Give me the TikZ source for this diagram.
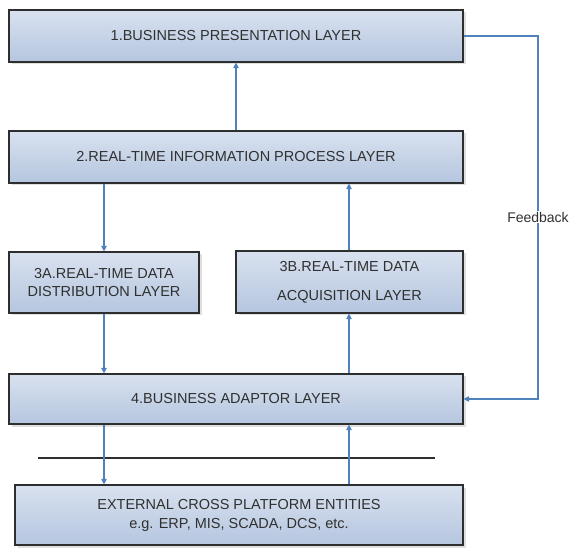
\documentclass[tikz,border=0pt]{standalone}
\usepackage{fontspec}
\setmainfont{Liberation Sans}
\usetikzlibrary{arrows.meta,shadows}
\definecolor{conn}{HTML}{4F81BD}
\definecolor{txt}{HTML}{303030}
\definecolor{topc}{HTML}{D8E1EF}
\definecolor{botc}{HTML}{B5C6DF}
\definecolor{edge}{HTML}{2E2E2E}
\tikzset{
  layer/.style={draw=edge, line width=1.2pt, rectangle, inner sep=0pt,
    top color=topc, bottom color=botc, text=txt, align=center,
    font=\fontsize{14.5}{18}\selectfont,
    drop shadow={opacity=0.25, shadow xshift=2.5pt, shadow yshift=-2.5pt}},
  arr/.style={draw=conn, line width=1.1pt, -{Triangle[width=5.5pt,length=5.5pt]}},
  lbl/.style={fill=white, text=txt, inner sep=1pt, font=\fontsize{14}{16}\selectfont}
}
\begin{document}
\begin{tikzpicture}[x=1pt,y=-1pt]
\useasboundingbox (0,0) rectangle (571,548);
\node[layer, minimum width=454pt, minimum height=52pt] (b1) at (236,36) {1.BUSINESS PRESENTATION LAYER};
\node[layer, minimum width=454pt, minimum height=52pt] (b2) at (236,157) {2.REAL-TIME INFORMATION PROCESS LAYER};
\node[layer, minimum width=190pt, minimum height=61pt] (b3a) at (104,282.5) {3A.REAL-TIME DATA\\DISTRIBUTION LAYER};
\node[layer, minimum width=227pt, minimum height=62pt] (b3b) at (349.5,282) {3B.REAL-TIME DATA\\[11pt]ACQUISITION LAYER};
\node[layer, minimum width=454pt, minimum height=50pt] (b4) at (236,399) {4.BUSINESS ADAPTOR LAYER};
\node[layer, minimum width=448pt, minimum height=60pt, font=\fontsize{14.5}{19}\selectfont] (b5) at (239,515) {EXTERNAL CROSS PLATFORM ENTITIES\\e.g. ERP, MIS, SCADA, DCS, etc.};
\coordinate (sepL) at (38,458);
\coordinate (sepR) at (435,458);
\coordinate (fbx) at (538,36);
\coordinate (ax) at (349,0);
\draw[line width=1.2pt, draw=edge] (sepL) -- (sepR);
\draw[arr] (b2.north) -- (b1.south);
\draw[arr] (b2.south -| b3a.north) -- (b3a.north);
\draw[arr] (b3b.north -| ax) -- (b2.south -| ax);
\draw[arr] (b3a.south) -- (b3a.south |- b4.north);
\draw[arr] (b4.north -| ax) -- (b3b.south -| ax);
\draw[arr] (b3a.south |- b4.south) -- (b3a.south |- b5.north);
\draw[arr] (b5.north -| ax) -- (b4.south -| ax);
\draw[arr] (b1.east) -- (fbx) |- (b4.east);
\node[lbl] (fb) at (538,217) {Feedback};
\end{tikzpicture}
\end{document}
